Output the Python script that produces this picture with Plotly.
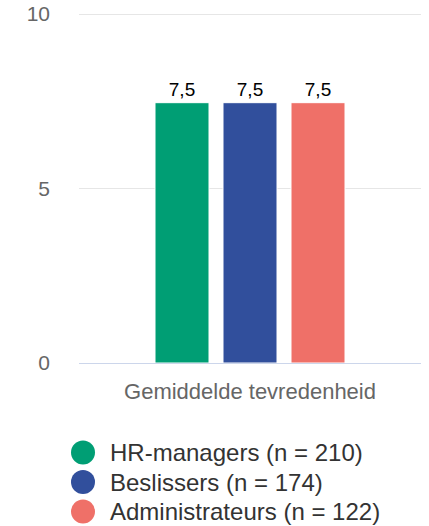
import plotly.graph_objects as go

category = ["Gemiddelde tevredenheid"]
groups = ["HR-managers (n = 210)", "Beslissers (n = 174)", "Administrateurs (n = 122)"]
values = [7.46, 7.46, 7.46]
colors = ["#009E74", "#314F9C", "#EF7068"]
y_ticks = [0, 5, 10]

fig = go.Figure()
for name, val, col in zip(groups, values, colors):
    fig.add_trace(go.Bar(
        x=category, y=[val], name=name,
        marker=dict(color=col, line=dict(color="white", width=1)),
        texttemplate="%{y:.1f}", textposition="outside",
        textfont=dict(size=19, color="#000000"),
        cliponaxis=False, showlegend=False))

# legend drawn below the plot: round markers + labels
for i, (name, col) in enumerate(zip(groups, colors)):
    ly = -0.256 - i * 0.0843
    fig.add_shape(type="circle", xref="paper", yref="paper",
                  xsizemode="pixel", ysizemode="pixel",
                  xanchor=0.0117, yanchor=ly,
                  x0=-12, x1=12, y0=-12, y1=12,
                  fillcolor=col, line=dict(width=0))
    fig.add_annotation(text=name, xref="paper", yref="paper",
                       x=0.085, y=ly, xanchor="left", yanchor="middle",
                       showarrow=False, font=dict(size=24, color="#333333"))

fig.update_layout(
    width=429, height=526,
    margin=dict(l=79, r=8, t=13, b=163, autoexpand=False),
    plot_bgcolor="white", paper_bgcolor="white",
    font=dict(family="Liberation Sans, Arial, sans-serif", color="#666666"),
    separators=",.",
    barmode="group", bargap=0.4035, bargroupgap=0.206,
    showlegend=False)
fig.update_yaxes(
    range=[0, 10.03], tickvals=y_ticks, showgrid=True, gridcolor="#E6E6E6",
    zeroline=False, showline=False, tickfont=dict(size=21, color="#666666"),
    ticklabelstandoff=28, ticklabeloverflow="allow", automargin=False)
fig.update_xaxes(
    showline=True, linecolor="#CCD6EB", linewidth=1,
    tickfont=dict(size=22, color="#666666"), ticklabelstandoff=9,
    automargin=False)

fig.write_html("out.html", config={"displayModeBar": False},
               post_script="document.body.style.margin = '0px';")
